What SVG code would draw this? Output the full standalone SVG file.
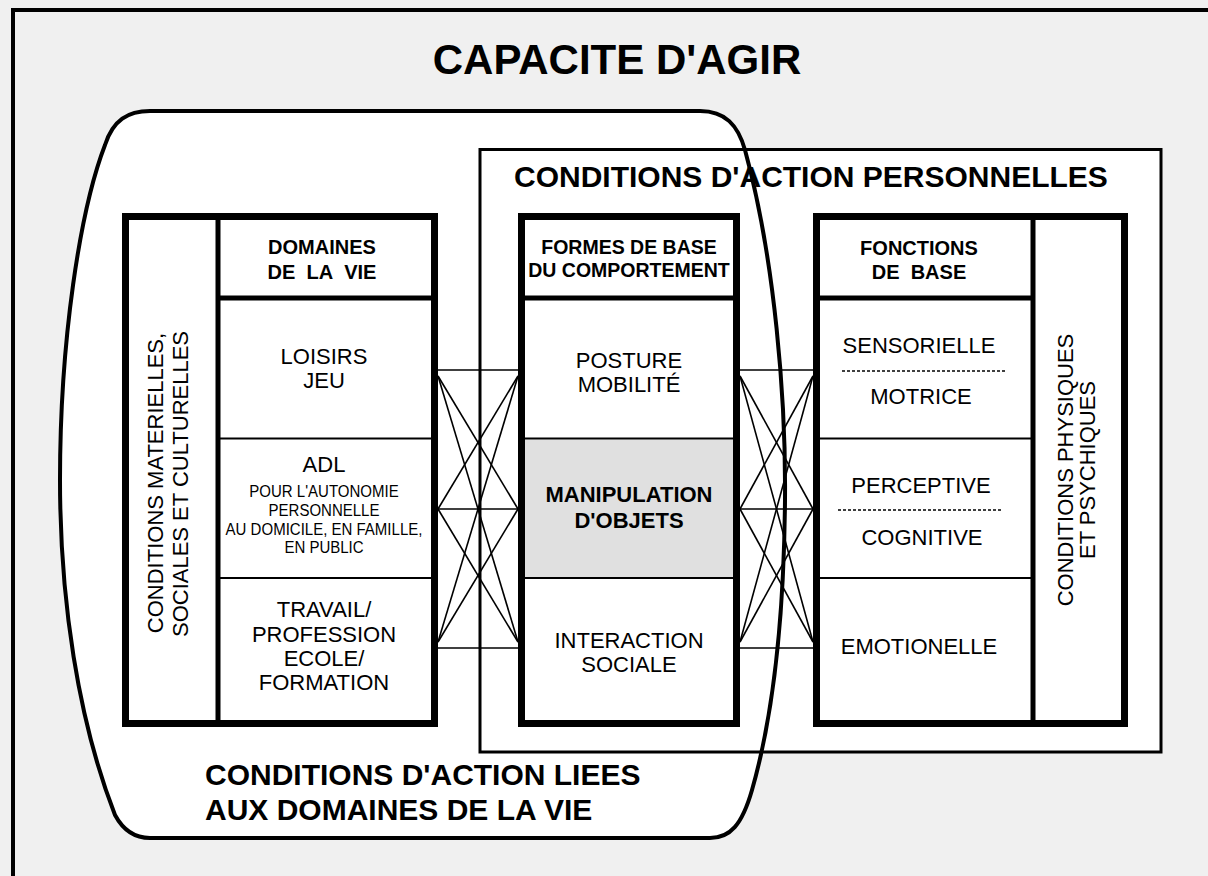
<svg xmlns="http://www.w3.org/2000/svg" width="1208" height="876" viewBox="0 0 1208 876">
<style>
text{font-family:"Liberation Sans",Arial,sans-serif;fill:#000}
.b{font-weight:bold}
.t22{font-size:22px}
.h{font-size:20px;font-weight:bold}
.sm{font-size:16.5px}
.big{font-size:30px;font-weight:bold}
.box{fill:#fff;stroke:#000;stroke-width:7}
.thin{stroke:#000;stroke-width:2;fill:none}
.thick{stroke:#000;stroke-width:5;fill:none}
.con line{stroke:#000;stroke-width:1.6}
.dash{stroke:#000;stroke-width:1.5;stroke-dasharray:3 2}
</style>
<rect x="0" y="0" width="1208" height="876" fill="#f0f0f0"/>
<path d="M13,876 V10 H1208" fill="none" stroke="#000" stroke-width="4"/>
<g id="title"><text x="617" y="74" text-anchor="middle" class="b" font-size="42">CAPACITE D'AGIR</text></g>
<path id="oval-fill" d="M150,111 L700,111 C725,111 738,125 745,150 C775,260 786,400 785,500 C784,620 772,720 752,790 C742,825 730,838 710,838 L150,838 C132,838 122,828 115,815 C78,720 60,600 60,480 C60,340 80,210 105,145 C113,120 128,111 150,111 Z" fill="#fff"/>
<g id="personnelles">
<rect x="480" y="149.5" width="681" height="602.5" fill="#fff" stroke="#000" stroke-width="3"/>
<text x="514" y="187" class="big">CONDITIONS D'ACTION PERSONNELLES</text>
</g>
<g id="connectors" class="con">
<line x1="438" y1="370" x2="518" y2="370"/>
<line x1="438" y1="509" x2="518" y2="509"/>
<line x1="438" y1="648" x2="518" y2="648"/>
<line x1="438" y1="376" x2="518" y2="509"/>
<line x1="438" y1="376" x2="518" y2="642"/>
<line x1="438" y1="509" x2="518" y2="376"/>
<line x1="438" y1="509" x2="518" y2="642"/>
<line x1="438" y1="642" x2="518" y2="376"/>
<line x1="438" y1="642" x2="518" y2="509"/>
<line x1="740" y1="370" x2="813" y2="370"/>
<line x1="740" y1="509" x2="813" y2="509"/>
<line x1="740" y1="648" x2="813" y2="648"/>
<line x1="740" y1="376" x2="813" y2="509"/>
<line x1="740" y1="376" x2="813" y2="642"/>
<line x1="740" y1="509" x2="813" y2="376"/>
<line x1="740" y1="509" x2="813" y2="642"/>
<line x1="740" y1="642" x2="813" y2="376"/>
<line x1="740" y1="642" x2="813" y2="509"/>
</g>
<g id="domaines">
<rect class="box" x="125.5" y="216.5" width="309" height="507"/>
<line class="thick" x1="218" y1="216" x2="218" y2="724"/>
<line class="thick" x1="218" y1="298" x2="435" y2="298"/>
<line class="thin" x1="218" y1="438.5" x2="435" y2="438.5"/>
<line class="thin" x1="218" y1="578" x2="435" y2="578"/>
<g text-anchor="middle">
<text x="322" y="254" class="h">DOMAINES</text>
<text x="322" y="279" class="h">DE&#160; LA&#160; VIE</text>
<text x="324" y="364" class="t22">LOISIRS</text>
<text x="324" y="388" class="t22">JEU</text>
<text x="324" y="472" class="t22">ADL</text>
<text transform="translate(324,497) scale(0.91,1)" class="sm">POUR L'AUTONOMIE</text>
<text transform="translate(324,516) scale(0.91,1)" class="sm">PERSONNELLE</text>
<text transform="translate(324,534.5) scale(0.91,1)" class="sm">AU DOMICILE, EN FAMILLE,</text>
<text transform="translate(324,553) scale(0.91,1)" class="sm">EN PUBLIC</text>
<text x="324" y="617" class="t22">TRAVAIL/</text>
<text x="324" y="642" class="t22">PROFESSION</text>
<text x="324" y="666" class="t22">ECOLE/</text>
<text x="324" y="690" class="t22">FORMATION</text>
<text transform="translate(163,483) rotate(-90)" class="t22">CONDITIONS MATERIELLES,</text>
<text transform="translate(188,484) rotate(-90)" class="t22">SOCIALES ET CULTURELLES</text>
</g>
</g>
<g id="formes">
<rect class="box" x="521.5" y="216.5" width="215" height="507"/>
<rect x="525" y="439.5" width="208" height="138" fill="#e0e0e0"/>
<line class="thick" x1="521" y1="298" x2="737" y2="298"/>
<line class="thin" x1="521" y1="438.5" x2="737" y2="438.5"/>
<line class="thin" x1="521" y1="578" x2="737" y2="578"/>
<g text-anchor="middle">
<text x="629" y="254" class="b" font-size="19.5">FORMES DE BASE</text>
<text x="629" y="277" class="b" font-size="19.5">DU COMPORTEMENT</text>
<text x="629" y="368" class="t22">POSTURE</text>
<text x="629" y="392" class="t22">MOBILITÉ</text>
<text x="629" y="502" class="b t22">MANIPULATION</text>
<text x="629" y="528" class="b t22">D'OBJETS</text>
<text x="629" y="648" class="t22">INTERACTION</text>
<text x="629" y="672" class="t22">SOCIALE</text>
</g>
</g>
<g id="fonctions">
<rect class="box" x="816.5" y="216.5" width="308" height="507"/>
<line class="thick" x1="1033" y1="216" x2="1033" y2="724"/>
<line class="thick" x1="816" y1="298" x2="1033" y2="298"/>
<line class="thin" x1="816" y1="438.5" x2="1033" y2="438.5"/>
<line class="thin" x1="816" y1="578" x2="1033" y2="578"/>
<line class="dash" x1="842" y1="371" x2="1006" y2="371"/>
<line class="dash" x1="838" y1="510" x2="1002" y2="510"/>
<g text-anchor="middle">
<text x="919" y="255" class="h">FONCTIONS</text>
<text x="919" y="279" class="h">DE&#160; BASE</text>
<text x="919" y="353" class="t22">SENSORIELLE</text>
<text x="921" y="404" class="t22">MOTRICE</text>
<text x="921" y="493" class="t22">PERCEPTIVE</text>
<text x="922" y="545" class="t22">COGNITIVE</text>
<text x="919" y="654" class="t22">EMOTIONELLE</text>
<text transform="translate(1073,470) rotate(-90)" class="t22">CONDITIONS PHYSIQUES</text>
<text transform="translate(1095,470) rotate(-90)" class="t22">ET PSYCHIQUES</text>
</g>
</g>
<g id="liees">
<path d="M150,111 L700,111 C725,111 738,125 745,150 C775,260 786,400 785,500 C784,620 772,720 752,790 C742,825 730,838 710,838 L150,838 C132,838 122,828 115,815 C78,720 60,600 60,480 C60,340 80,210 105,145 C113,120 128,111 150,111 Z" fill="none" stroke="#000" stroke-width="4"/>
<text x="205" y="785" class="big">CONDITIONS D'ACTION LIEES</text>
<text x="205" y="820" class="big">AUX DOMAINES DE LA VIE</text>
</g>
</svg>
